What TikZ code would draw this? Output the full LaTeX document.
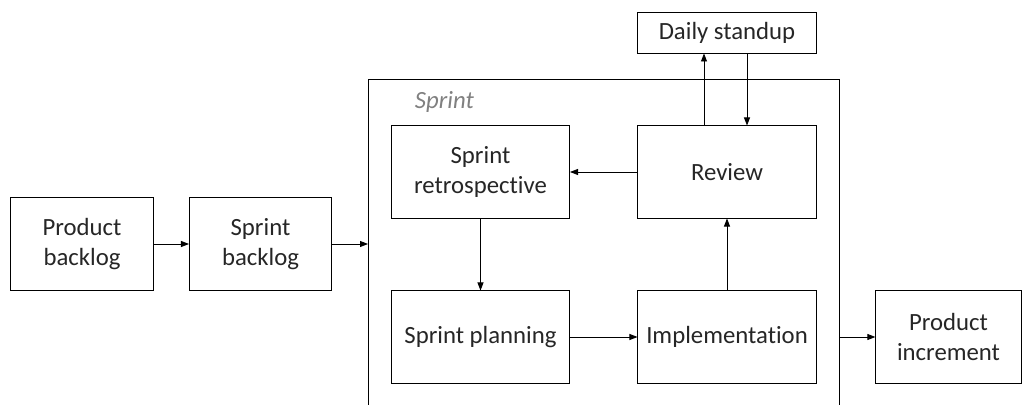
\documentclass[tikz,border=0pt]{standalone}
\usepackage{fontspec}
\setmainfont[Ligatures={NoCommon}]{Carlito}
\usetikzlibrary{arrows.meta}
\begin{document}
\begin{tikzpicture}[x=0.025cm,y=-0.025cm,
  box/.style={draw=black, line width=0.7pt, align=center, inner sep=0pt,
    minimum width=4.45cm, minimum height=2.3cm, text=black!85},
  smallbox/.style={box, minimum width=3.55cm},
  arr/.style={-{Triangle[length=2mm,width=1.5mm]}, line width=0.6pt},
  every node/.style={font=\fontsize{17.6}{21}\selectfont}]
\useasboundingbox (0,0) rectangle (1032,405);
% sprint frame
\draw[line width=0.7pt] (368,410)--(368,79)--(839,79)--(839,410);
\node[anchor=base west, text=black!50] (lbl) at (410,109) {\itshape Sprint};
\coordinate (frameL) at (368,244);
\coordinate (frameR) at (839,337);
% boxes
\node[smallbox] (pb) at (82,244) {Product\\backlog};
\node[smallbox] (sb) at (260.5,244) {Sprint\\backlog};
\node[box] (retro) at (480.5,172) {Sprint\\retrospective};
\node[box] (review) at (727,172) {Review};
\node[box, minimum height=1cm] (daily) at (727,33) {Daily standup};
\node[box] (plan) at (480.5,337) {Sprint planning};
\node[box] (impl) at (727,337) {Implementation};
\node[smallbox, minimum width=3.63cm] (inc) at (948.5,337) {Product\\increment};
% connectors
\draw[arr] (pb.east)--(sb.west);
\draw[arr] (sb.east)--(frameL);
\draw[arr] (review.west)--(retro.east);
\draw[arr] (retro.south)--(plan.north);
\draw[arr] (plan.east)--(impl.west);
\draw[arr] (impl.north)--(review.south);
\draw[arr] ([xshift=-0.575cm]review.north)--([xshift=-0.575cm]daily.south);
\draw[arr] ([xshift=0.5cm]daily.south)--([xshift=0.5cm]review.north);
\draw[arr] (frameR)--(inc.west);
\end{tikzpicture}
\end{document}
